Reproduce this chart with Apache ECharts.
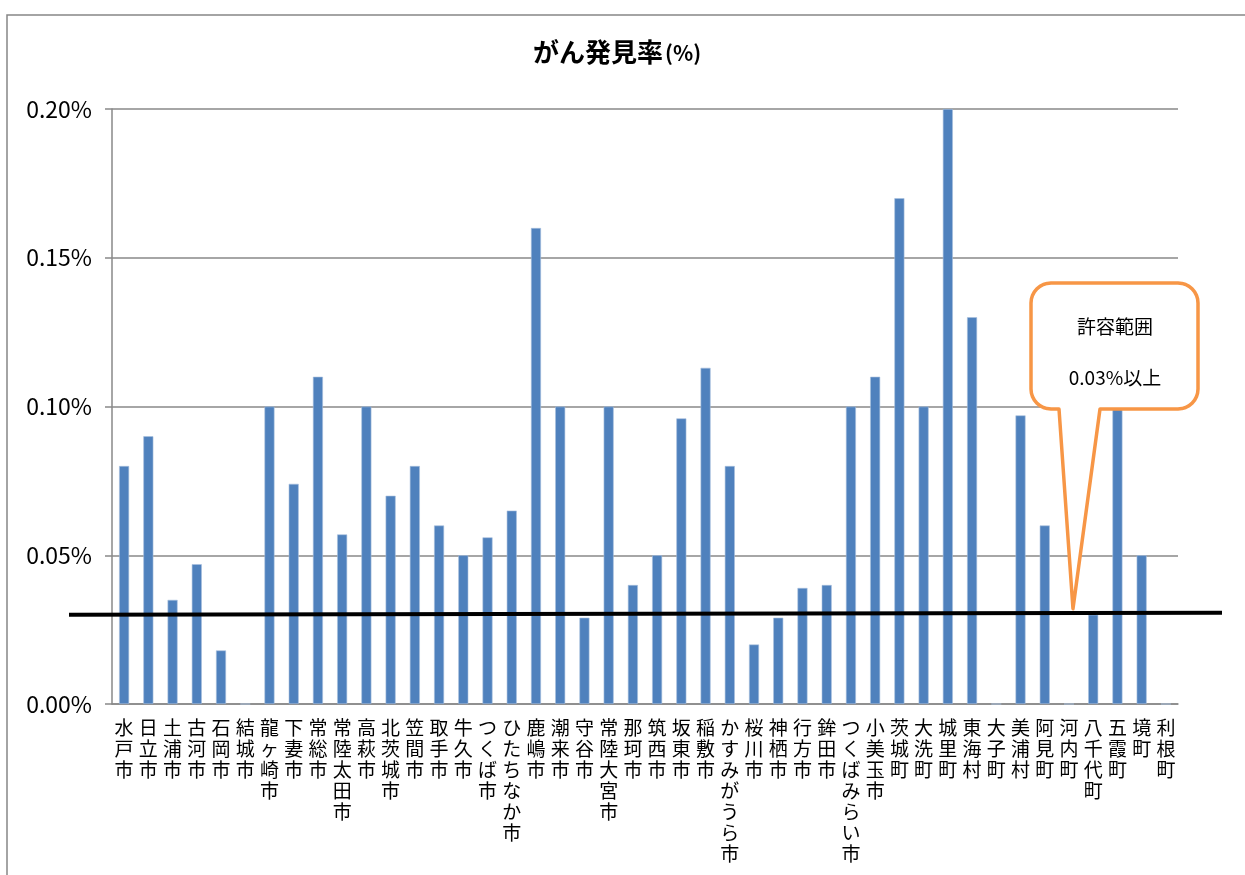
<!DOCTYPE html>
<html lang="ja">
<head>
    <meta charset="UTF-8">
    <title>がん発見率</title>
    <style>
        html, body { margin: 0; padding: 0; background: #fff; }
        #chart { width: 1245px; height: 875px; }
    </style>
</head>
<body>
    <div id="chart"></div>
    <script src="https://cdn.jsdelivr.net/npm/echarts@6/dist/echarts.min.js"></script>
    <script type="text/javascript">
        // 市町村名
        var cities = ['水戸市', '日立市', '土浦市', '古河市', '石岡市', '結城市', '龍ヶ崎市', '下妻市', '常総市', '常陸太田市',
            '高萩市', '北茨城市', '笠間市', '取手市', '牛久市', 'つくば市', 'ひたちなか市', '鹿嶋市', '潮来市', '守谷市',
            '常陸大宮市', '那珂市', '筑西市', '坂東市', '稲敷市', 'かすみがうら市', '桜川市', '神栖市', '行方市', '鉾田市',
            'つくばみらい市', '小美玉市', '茨城町', '大洗町', '城里町', '東海村', '大子町', '美浦村', '阿見町', '河内町',
            '八千代町', '五霞町', '境町', '利根町'];
        // がん発見率 (%)
        var rates = [0.080, 0.090, 0.035, 0.047, 0.018, 0, 0.100, 0.074, 0.110, 0.057,
            0.100, 0.070, 0.080, 0.060, 0.050, 0.056, 0.065, 0.160, 0.100, 0.029,
            0.100, 0.040, 0.050, 0.096, 0.113, 0.080, 0.020, 0.029, 0.039, 0.040,
            0.100, 0.110, 0.170, 0.100, 0.200, 0.130, 0, 0.097, 0.060, 0,
            0.030, 0.100, 0.050, 0];
        var limit = 0.03;           // 許容範囲
        var limitCity = '河内町';   // 吹き出しの指す位置
        var yTicks = [0, 0.05, 0.10, 0.15, 0.20];

        var jp = '"Noto Sans CJK JP", sans-serif';
        var chart = echarts.init(document.getElementById('chart'));

        var option = {
            animation: false,
            backgroundColor: '#fff',
            title: {
                text: '{a|がん発見率}{b|(%)}',
                left: 528,
                top: 34,
                textStyle: {
                    rich: {
                        a: { fontFamily: jp, fontSize: 26, fontWeight: 'bold', color: '#000' },
                        b: { fontFamily: jp, fontSize: 21, fontWeight: 'bold', color: '#000', padding: [3, 0, 0, 2] }
                    }
                }
            },
            grid: { left: 112, right: 67, top: 109, bottom: 171 },
            xAxis: {
                type: 'category',
                data: cities,
                axisLine: { lineStyle: { color: '#898989', width: 1.5 } },
                axisTick: { alignWithLabel: false, length: 6, lineStyle: { color: '#898989', width: 1.5 } },
                axisLabel: {
                    interval: 0,
                    margin: 13,
                    color: '#000',
                    fontFamily: jp,
                    fontSize: 19,
                    lineHeight: 21,
                    verticalAlign: 'top',
                    formatter: function (v) { return v.split('').join('\n'); }
                }
            },
            yAxis: {
                type: 'value',
                min: yTicks[0],
                max: yTicks[yTicks.length - 1],
                interval: 0.05,
                axisLine: { show: true, lineStyle: { color: '#898989', width: 1.5 } },
                axisTick: { show: true, length: 7, lineStyle: { color: '#898989', width: 1.5 } },
                splitLine: { lineStyle: { color: '#898989', width: 1.5 } },
                axisLabel: {
                    margin: 20,
                    color: '#000',
                    fontFamily: jp,
                    fontSize: 23,
                    formatter: function (v) { return v.toFixed(2) + '%'; }
                }
            },
            series: [{
                type: 'bar',
                data: rates,
                barWidth: 10,
                itemStyle: { color: '#4F81BD', borderColor: '#A7BFDE', borderWidth: 0.6 }
            }]
        };
        chart.setOption(option);

        // 基準線と吹き出し
        var yLimit = chart.convertToPixel({ yAxisIndex: 0 }, limit);
        var tipX = chart.convertToPixel({ xAxisIndex: 0 }, limitCity) + 4;
        var tipY = yLimit - 6;

        // 角丸の吹き出しの輪郭
        function corner(cx, cy, r, a0, a1) {
            var pts = [];
            for (var i = 0; i <= 8; i++) {
                var a = a0 + (a1 - a0) * i / 8;
                pts.push([cx + r * Math.cos(a), cy + r * Math.sin(a)]);
            }
            return pts;
        }
        var bx1 = 1031, by1 = 283, bx2 = 1198, by2 = 409, r = 20;
        var PI = Math.PI;
        var callout = [].concat(
            corner(bx1 + r, by1 + r, r, PI, PI * 1.5),
            corner(bx2 - r, by1 + r, r, PI * 1.5, PI * 2),
            corner(bx2 - r, by2 - r, r, 0, PI * 0.5),
            [[1100, by2], [tipX, tipY], [1059, by2]],
            corner(bx1 + r, by2 - r, r, PI * 0.5, PI)
        );

        chart.setOption({
            graphic: [
                {
                    type: 'rect',
                    shape: { x: 7, y: 15, width: 1300, height: 900 },
                    style: { fill: 'none', stroke: '#868686', lineWidth: 1.5 },
                    z: 0
                },
                {
                    type: 'line',
                    shape: { x1: 69, y1: yLimit, x2: 1222, y2: yLimit - 2 },
                    style: { stroke: '#000', lineWidth: 4 },
                    z: 100
                },
                {
                    type: 'polygon',
                    shape: { points: callout },
                    style: { fill: '#fff', stroke: '#F79646', lineWidth: 3.5, lineJoin: 'round' },
                    z: 110
                },
                {
                    type: 'text',
                    x: 1115, y: 327,
                    style: { text: '許容範囲', fontFamily: jp, fontSize: 19, fill: '#000', align: 'center', verticalAlign: 'middle' },
                    z: 120
                },
                {
                    type: 'text',
                    x: 1115, y: 378,
                    style: { text: '0.03%以上', fontFamily: jp, fontSize: 19, fill: '#000', align: 'center', verticalAlign: 'middle' },
                    z: 120
                }
            ]
        });
    </script>
</body>
</html>
